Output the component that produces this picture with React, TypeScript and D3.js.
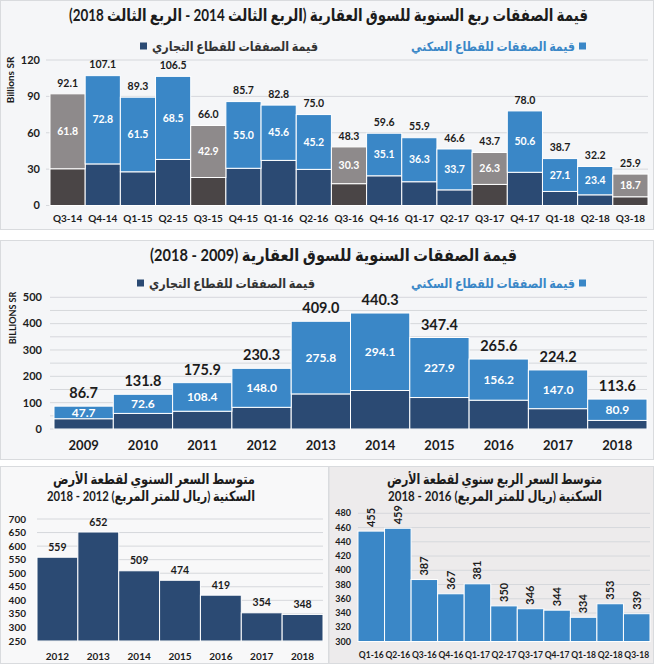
import * as d3 from 'd3';

// quarterly deal values (billions SR), Q3-14 .. Q3-18
const quarters = ['Q3-14', 'Q4-14', 'Q1-15', 'Q2-15', 'Q3-15', 'Q4-15', 'Q1-16', 'Q2-16', 'Q3-16', 'Q4-16', 'Q1-17', 'Q2-17', 'Q3-17', 'Q4-17', 'Q1-18', 'Q2-18', 'Q3-18'];
const quarterTotals = [92.1, 107.1, 89.3, 106.5, 66.0, 85.7, 82.8, 75.0, 48.3, 59.6, 55.9, 46.6, 43.7, 78.0, 38.7, 32.2, 25.9];
const quarterResidential = [61.8, 72.8, 61.5, 68.5, 42.9, 55.0, 45.6, 45.2, 30.3, 35.1, 36.3, 33.7, 26.3, 50.6, 27.1, 23.4, 18.7];
const quarterTicks = [0, 30, 60, 90, 120];

// yearly deal values (billions SR)
const years = ['2009', '2010', '2011', '2012', '2013', '2014', '2015', '2016', '2017', '2018'];
const yearTotals = [86.7, 131.8, 175.9, 230.3, 409.0, 440.3, 347.4, 265.6, 224.2, 113.6];
const yearResidential = [47.7, 72.6, 108.4, 148.0, 275.8, 294.1, 227.9, 156.2, 147.0, 80.9];
const yearTicks = [0, 100, 200, 300, 400, 500];

// average residential land price (SR / m2)
const landYears = ['2012', '2013', '2014', '2015', '2016', '2017', '2018'];
const landYearPrices = [559, 652, 509, 474, 419, 354, 348];
const landYearTicks = [250, 300, 350, 400, 450, 500, 550, 600, 650, 700];

const landQuarters = ['Q1-16', 'Q2-16', 'Q3-16', 'Q4-16', 'Q1-17', 'Q2-17', 'Q3-17', 'Q4-17', 'Q1-18', 'Q2-18', 'Q3-18'];
const landQuarterPrices = [455, 459, 387, 367, 381, 350, 346, 344, 334, 353, 339];
const landQuarterTicks = [300, 320, 340, 360, 380, 400, 420, 440, 460, 480];

const legendResidential = 'قيمة الصفقات للقطاع السكني';
const legendCommercial = 'قيمة الصفقات للقطاع التجاري';

const BLUE = '#3a87c7';
const NAVY = '#2b4a73';
const GREY = '#8e8a8b';
const DARK_GREY = '#4a4546';
const INK = '#1c1c1c';
const GRID = '#d6d8dc';
const FONT = "Lato, 'DejaVu Sans', sans-serif";

// arabic text squeezed to the width it has in the original
function ArText(props: { x: number; y: number; w: number; size: number; fill?: string; children: string }) {
  return (
    <text
      x={props.x}
      y={props.y}
      dy="0.35em"
      direction="rtl"
      textAnchor="middle"
      fontSize={props.size}
      fontWeight={700}
      fill={props.fill || INK}
      textLength={props.w}
      lengthAdjust="spacingAndGlyphs"
    >
      {props.children}
    </text>
  );
}

type StackProps = {
  labels: string[];
  totals: number[];
  residential: number[];
  ticks: number[];
  grid: number[];
  xRange: [number, number];
  yRange: [number, number];
  max: number;
  isGrey: (l: string) => boolean;
  tickX: number;
  tickSize: number;
  xLabelY: number;
  xLabelSize: number;
  totalSize: number;
  innerSize: number;
  totalGap: number;
};

function StackedBars(p: StackProps) {
  const x = d3.scaleBand().domain(p.labels).range(p.xRange).padding(0);
  const y = d3.scaleLinear().domain([0, p.max]).range(p.yRange);
  const rows = p.labels.map((l, i) => ({
    label: l,
    commercial: +(p.totals[i] - p.residential[i]).toFixed(1),
    residential: p.residential[i],
  }));
  const series = d3.stack<any>().keys(['commercial', 'residential'])(rows);

  return (
    <g>
      {p.grid.map((t) => (
        <line key={'g' + t} x1={p.xRange[0] - 4} x2={p.xRange[1]} y1={y(t)} y2={y(t)} stroke={GRID} strokeWidth={1} />
      ))}
      {p.ticks.map((t) => (
        <text key={'t' + t} x={p.tickX} y={y(t)} dy="0.35em" textAnchor="end" fontSize={p.tickSize} fontWeight={700} fill={INK}>
          {t}
        </text>
      ))}
      {series.map((s) =>
        s.map((d: any) => {
          const grey = p.isGrey(d.data.label);
          const fill = s.key === 'commercial' ? (grey ? DARK_GREY : NAVY) : grey ? GREY : BLUE;
          return (
            <rect
              key={s.key + d.data.label}
              x={x(d.data.label)}
              y={y(d[1])}
              width={x.bandwidth()}
              height={y(d[0]) - y(d[1])}
              fill={fill}
              stroke="#fff"
              strokeWidth={1}
            />
          );
        })
      )}
      {rows.map((r, i) => (
        <g key={'v' + r.label}>
          <text
            x={(x(r.label) || 0) + x.bandwidth() / 2}
            y={y(r.commercial + r.residential / 2)}
            dy="0.35em"
            textAnchor="middle"
            fontSize={p.innerSize}
            fontWeight={700}
            fill="#fff"
          >
            {r.residential.toFixed(1)}
          </text>
          <text
            x={(x(r.label) || 0) + x.bandwidth() / 2}
            y={y(p.totals[i]) - p.totalGap}
            dy="0.35em"
            textAnchor="middle"
            fontSize={p.totalSize}
            fontWeight={700}
            fill={INK}
          >
            {p.totals[i].toFixed(1)}
          </text>
          <text
            x={(x(r.label) || 0) + x.bandwidth() / 2}
            y={p.xLabelY}
            dy="0.35em"
            textAnchor="middle"
            fontSize={p.xLabelSize}
            fontWeight={700}
            fill={INK}
          >
            {r.label}
          </text>
        </g>
      ))}
    </g>
  );
}

function Legend({ y, navyX }: { y: number; navyX: number }) {
  return (
    <g>
      <rect x={579} y={y - 3.5} width={7} height={7} fill={BLUE} />
      <ArText x={493} y={y} w={164} size={13} fill={BLUE}>
        {legendResidential}
      </ArText>
      <rect x={navyX} y={y - 3.5} width={7} height={7} fill={NAVY} />
      <ArText x={navyX + 12 + 83} y={y} w={166} size={13} fill="#333">
        {legendCommercial}
      </ArText>
    </g>
  );
}

type PriceProps = {
  labels: string[];
  values: number[];
  ticks: number[];
  xRange: [number, number];
  yRange: [number, number];
  domain: [number, number];
  color: string;
  tickX: number;
  tickSize: number;
  xLabelY: number;
  xLabelSize: number;
  valueSize: number;
  rotated: boolean;
};

function PriceBars(p: PriceProps) {
  const x = d3.scaleBand().domain(p.labels).range(p.xRange).padding(0);
  const y = d3.scaleLinear().domain(p.domain).range(p.yRange);
  return (
    <g>
      {p.ticks.map((t) => (
        <g key={'t' + t}>
          <line x1={p.xRange[0]} x2={p.xRange[1]} y1={y(t)} y2={y(t)} stroke={GRID} strokeWidth={1} />
          <text x={p.tickX} y={y(t)} dy="0.35em" textAnchor="end" fontSize={p.tickSize} fontWeight={700} fill={INK}>
            {t}
          </text>
        </g>
      ))}
      {p.labels.map((l, i) => {
        const cx = (x(l) || 0) + x.bandwidth() / 2;
        const top = y(p.values[i]);
        return (
          <g key={l}>
            <rect x={x(l)} y={top} width={x.bandwidth()} height={y(p.domain[0]) - top} fill={p.color} stroke="#fff" strokeWidth={1} />
            {p.rotated ? (
              <text
                transform={`translate(${cx},${top - 4}) rotate(-90)`}
                dy="0.35em"
                textAnchor="start"
                fontSize={p.valueSize}
                fontWeight={700}
                fill={INK}
              >
                {p.values[i]}
              </text>
            ) : (
              <text x={cx} y={top - 10} dy="0.35em" textAnchor="middle" fontSize={p.valueSize} fontWeight={700} fill={INK}>
                {p.values[i]}
              </text>
            )}
            <text x={cx} y={p.xLabelY} dy="0.35em" textAnchor="middle" fontSize={p.xLabelSize} fontWeight={700} fill={INK}>
              {l}
            </text>
          </g>
        );
      })}
    </g>
  );
}

export default function App() {
  return (
    <div style={{ position: 'absolute', left: 0, top: 0 }}>
      <svg width={654} height={664} style={{ display: 'block', fontFamily: FONT }}>
        <rect x={0} y={0} width={654} height={664} fill="#fff" />

        {/* panel 1: quarterly */}
        <rect x={0.5} y={0.5} width={653} height={229} fill="#f5f6f8" stroke="#d9dbde" />
        <ArText x={328.5} y={15} w={519} size={17}>
          قيمة الصفقات ربع السنوية للسوق العقارية (الربع الثالث 2014 - الربع الثالث 2018)
        </ArText>
        <Legend y={46} navyX={140} />
        <text transform="translate(10,80) rotate(-90)" dy="0.35em" textAnchor="middle" fontSize={10} fontWeight={700} fill={INK}>
          Billions SR
        </text>
        <StackedBars
          labels={quarters}
          totals={quarterTotals}
          residential={quarterResidential}
          ticks={quarterTicks}
          grid={quarterTicks}
          xRange={[50, 648]}
          yRange={[205.5, 60]}
          max={120}
          isGrey={(l) => l.startsWith('Q3')}
          tickX={40}
          tickSize={11}
          xLabelY={218}
          xLabelSize={10}
          totalSize={10.5}
          innerSize={10.5}
          totalGap={11}
        />

        {/* panel 2: yearly */}
        <rect x={0.5} y={240.5} width={653} height={219} fill="#f5f6f8" stroke="#d9dbde" />
        <ArText x={333.5} y={255} w={367} size={17}>
          قيمة الصفقات السنوية للسوق العقارية (2009 - 2018)
        </ArText>
        <Legend y={283} navyX={137} />
        <text transform="translate(13,318) rotate(-90)" dy="0.35em" textAnchor="middle" fontSize={9} fontWeight={700} fill={INK}>
          BILLIONS SR
        </text>
        <StackedBars
          labels={years}
          totals={yearTotals}
          residential={yearResidential}
          ticks={yearTicks}
          grid={d3.range(0, 501, 50)}
          xRange={[54, 647]}
          yRange={[429, 297.3]}
          max={500}
          isGrey={() => false}
          tickX={42}
          tickSize={11}
          xLabelY={445}
          xLabelSize={13}
          totalSize={14.5}
          innerSize={12}
          totalGap={13}
        />

        {/* panel 3: yearly land price */}
        <rect x={0.5} y={466.5} width={328} height={197} fill="#f8f8f9" stroke="#d9dbde" />
        <ArText x={154} y={479} w={202} size={14}>
          متوسط السعر السنوي لقطعة الأرض
        </ArText>
        <ArText x={151} y={496} w={208} size={14}>
          السكنية (ريال للمتر المربع) 2012 - 2018
        </ArText>
        <PriceBars
          labels={landYears}
          values={landYearPrices}
          ticks={landYearTicks}
          xRange={[37, 323]}
          yRange={[641, 519]}
          domain={[250, 700]}
          color={NAVY}
          tickX={26}
          tickSize={10}
          xLabelY={656}
          xLabelSize={10}
          valueSize={10.5}
          rotated={false}
        />

        {/* panel 4: quarterly land price */}
        <rect x={329} y={466.5} width={324.5} height={197} fill="#edebec" stroke="#d9dbde" />
        <ArText x={494.5} y={479} w={215} size={14}>
          متوسط السعر الربع سنوي لقطعة الأرض
        </ArText>
        <ArText x={495} y={496} w={214} size={14}>
          السكنية  (ريال للمتر المربع) 2016 - 2018
        </ArText>
        <PriceBars
          labels={landQuarters}
          values={landQuarterPrices}
          ticks={landQuarterTicks}
          xRange={[358, 650]}
          yRange={[641.5, 513.3]}
          domain={[300, 480]}
          color={BLUE}
          tickX={351}
          tickSize={9}
          xLabelY={655}
          xLabelSize={8.5}
          valueSize={11}
          rotated={true}
        />
      </svg>
    </div>
  );
}
